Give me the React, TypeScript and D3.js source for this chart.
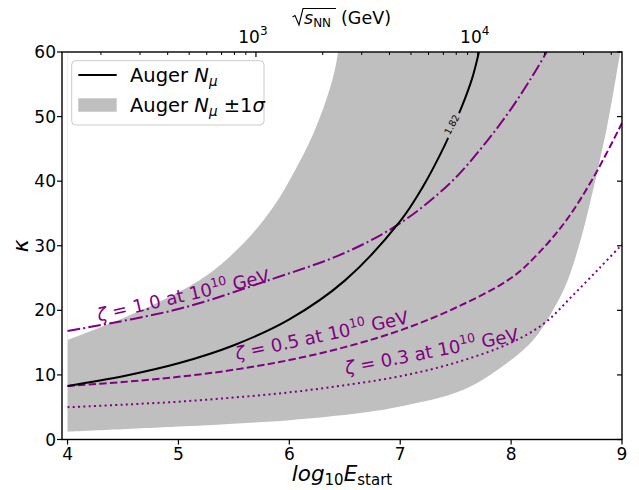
import React from 'react';
import * as d3 from 'd3';

// ---- data -------------------------------------------------------------
const eTicks = [4, 5, 6, 7, 8, 9];
const kappaTicks = [0, 10, 20, 30, 40, 50, 60];
const sqrtSMajor = [1e3, 1e4];
const sqrtSMajorExp = ['3', '4'];

// Auger N_mu contour (kappa vs log10 E_start), labelled 1.82
const augerE = [4.0, 4.5, 5.0, 5.5, 6.0, 6.5, 7.0, 7.2, 7.4, 7.55, 7.65, 7.71];
const augerK = [8.3, 9.8, 11.8, 14.6, 18.6, 24.6, 33.8, 39.0, 45.5, 51.3, 56.0, 60.0];
const augerLevel = '1.82';

// +/- 1 sigma band edges
const bandUpE = [4.0, 4.53, 4.92, 5.28, 5.615, 5.855, 6.036, 6.22, 6.35, 6.41, 6.44];
const bandUpK = [15.4, 19.0, 22.1, 25.7, 30.9, 36.0, 41.2, 47.5, 53.5, 57.2, 60.0];
const bandLoE = [4.0, 5.0, 6.0, 6.64, 7.0, 7.57, 7.96, 8.2, 8.38, 8.5, 8.62, 8.71, 8.86, 8.95, 8.985];
const bandLoK = [1.2, 2.0, 3.0, 4.1, 5.1, 7.7, 11.8, 15.4, 20.1, 24.2, 30.5, 36.5, 48.0, 56.5, 60.0];

// zeta curves
const zeta10E = [4.0, 5.0, 5.82, 6.5, 7.0, 7.45, 7.75, 8.0, 8.2, 8.32];
const zeta10K = [16.8, 20.2, 24.7, 28.9, 33.5, 39.7, 45.5, 51.2, 56.5, 60.0];
const zeta05E = [4.0, 4.5, 5.0, 5.5, 6.0, 6.5, 7.0, 7.5, 8.0, 8.25, 8.5, 8.75, 9.0];
const zeta05K = [8.3, 8.9, 9.7, 10.8, 12.3, 14.3, 16.9, 20.4, 25.0, 28.9, 34.0, 40.8, 49.0];
const zeta03E = [4.0, 4.5, 5.0, 5.5, 6.0, 6.5, 7.0, 7.5, 8.0, 8.3, 8.55, 8.8, 9.0];
const zeta03K = [5.0, 5.4, 5.85, 6.5, 7.3, 8.4, 9.8, 11.9, 15.0, 18.0, 22.2, 26.6, 30.2];

const zetaValues = ['1.0', '0.5', '0.3'];

// ---- layout -----------------------------------------------------------
const W = 639;
const H = 490;
const L = 62, R = 622, T = 52, B = 439.5;
const PURPLE = '#800080';
const GREY = '#bfbfbf';
const FONT = '"DejaVu Sans", sans-serif';

const zip = (a: number[], b: number[]) => a.map((v, i) => [v, b[i]] as [number, number]);

export default function App() {
  const x = d3.scaleLinear().domain([3.95, 9]).range([L, R]);
  const y = d3.scaleLinear().domain([0, 60]).range([B, T]);
  // sqrt(s_NN) = sqrt(2 E) with E in GeV
  const sx = d3
    .scaleLog()
    .domain([Math.sqrt(2 * Math.pow(10, 3.95)), Math.sqrt(2 * Math.pow(10, 9))])
    .range([L, R]);
  const sMinor = sx.ticks().filter((t) => !sqrtSMajor.includes(t));

  const curve = d3.curveCatmullRom.alpha(0.5);

  const line = d3
    .line<[number, number]>()
    .x((d) => x(d[0]))
    .y((d) => y(d[1]))
    .curve(curve);

  const aboveCurve = d3
    .area<[number, number]>()
    .x((d) => x(d[0]))
    .y0((d) => y(d[1]))
    .y1(T - 20)
    .curve(curve);

  const augerPath = line(zip(augerE, augerK)) || '';
  const z10 = line(zip(zeta10E, zeta10K)) || '';
  const z05 = line(zip(zeta05E, zeta05K)) || '';
  const z03 = line(zip(zeta03E, zeta03K)) || '';
  const bandAbove = aboveCurve(zip(bandLoE, bandLoK)) || '';
  const bandCut = aboveCurve(zip(bandUpE, bandUpK)) || '';

  // contour label position on the Auger curve
  const lblX = 451.7, lblY = 124.5, lblRot = -62;

  const zetaLabels = [
    { e: 5.044, k: 22.25, rot: -13 },
    { e: 6.292, k: 16.06, rot: -12 },
    { e: 7.284, k: 13.6, rot: -11 },
  ];

  return (
    <svg
      width={W}
      height={H}
      viewBox={`0 0 ${W} ${H}`}
      style={{ position: 'absolute', left: 0, top: 0, background: '#fff' }}
      fontFamily={FONT}
    >
      <defs>
        <clipPath id="plot">
          <rect x={L} y={T} width={R - L} height={B - T} />
        </clipPath>
        <mask id="band-mask" maskUnits="userSpaceOnUse" x={0} y={0} width={W} height={H}>
          <rect x={0} y={0} width={W} height={H} fill="#fff" />
          <path d={bandCut} fill="#000" />
        </mask>
        <mask id="gap-mask" maskUnits="userSpaceOnUse" x={0} y={0} width={W} height={H}>
          <rect x={0} y={0} width={W} height={H} fill="#fff" />
          <rect
            x={-13.5}
            y={-6}
            width={27}
            height={12}
            fill="#000"
            transform={`translate(${lblX},${lblY}) rotate(${lblRot})`}
          />
        </mask>
      </defs>

      <g clipPath="url(#plot)">
        {/* +/- 1 sigma band */}
        <path d={bandAbove} fill={GREY} mask="url(#band-mask)" />

        {/* zeta curves */}
        <path d={z10} fill="none" stroke={PURPLE} strokeWidth={2} strokeDasharray="12.8 3.2 2 3.2" />
        <path d={z05} fill="none" stroke={PURPLE} strokeWidth={2} strokeDasharray="7.4 3.2" />
        <path d={z03} fill="none" stroke={PURPLE} strokeWidth={2} strokeDasharray="2 3.3" />

        {/* Auger N_mu contour */}
        <path d={augerPath} fill="none" stroke="#000" strokeWidth={2} mask="url(#gap-mask)" />
      </g>

      <text
        transform={`translate(${lblX},${lblY}) rotate(${lblRot})`}
        textAnchor="middle"
        dominantBaseline="central"
        fontSize={9.5}
        fill="#000"
      >
        {augerLevel}
      </text>

      {/* zeta labels */}
      {zetaLabels.map((z, i) => (
        <text
          key={i}
          transform={`translate(${x(z.e)},${y(z.k)}) rotate(${z.rot})`}
          textAnchor="middle"
          dy={6}
          fontSize={18}
          fill={PURPLE}
        >
          <tspan fontStyle="italic">ζ</tspan>
          <tspan> = {zetaValues[i]} at 10</tspan>
          <tspan fontSize={12.5} dy={-7.5}>10</tspan>
          <tspan dy={7.5}> GeV</tspan>
        </text>
      ))}

      {/* legend */}
      <g>
        <rect x={71.7} y={60.7} width={192.3} height={64.3} rx={4} fill="#fff" fillOpacity={0.8} stroke="#cccccc" strokeWidth={1} />
        <line x1={78.3} x2={116.7} y1={75} y2={75} stroke="#000" strokeWidth={2} />
        <rect x={78.3} y={98.3} width={38.4} height={13.4} fill={GREY} />
        <text x={130} y={82} fontSize={19.5} fill="#000">
          Auger <tspan fontStyle="italic">N</tspan>
          <tspan fontStyle="italic" fontSize={13.5} dy={4}>μ</tspan>
        </text>
        <text x={130} y={112} fontSize={19.5} fill="#000">
          Auger <tspan fontStyle="italic">N</tspan>
          <tspan fontStyle="italic" fontSize={13.5} dy={4}>μ</tspan>
          <tspan dy={-4}> ±1</tspan>
          <tspan fontStyle="italic">σ</tspan>
        </text>
      </g>

      {/* spines */}
      <rect x={L} y={T} width={R - L} height={B - T} fill="none" stroke="#000" strokeWidth={1.4} />

      {/* bottom axis */}
      {eTicks.map((t) => (
        <g key={`e${t}`}>
          <line x1={x(t)} x2={x(t)} y1={B} y2={B + 5} stroke="#000" strokeWidth={1.2} />
          <text x={x(t)} y={459.5} textAnchor="middle" fontSize={17}>{t}</text>
        </g>
      ))}

      {/* left + right axis */}
      {kappaTicks.map((t) => (
        <g key={`k${t}`}>
          <line x1={L - 5} x2={L} y1={y(t)} y2={y(t)} stroke="#000" strokeWidth={1.2} />
          <line x1={R - 5} x2={R} y1={y(t)} y2={y(t)} stroke="#000" strokeWidth={1.2} />
          <text x={L - 6} y={y(t)} dy={6} textAnchor="end" fontSize={17}>{t}</text>
        </g>
      ))}

      {/* top axis: sqrt(s_NN) */}
      {sMinor.map((t) => (
        <line key={`m${t}`} x1={sx(t)} x2={sx(t)} y1={T} y2={T + 3} stroke="#000" strokeWidth={1} />
      ))}
      {sqrtSMajor.map((t, i) => (
        <g key={`s${t}`}>
          <line x1={sx(t)} x2={sx(t)} y1={T} y2={T + 5} stroke="#000" strokeWidth={1.2} />
          <text x={sx(t) - 3} y={43} textAnchor="middle" fontSize={17}>
            10<tspan fontSize={12} dy={-8}>{sqrtSMajorExp[i]}</tspan>
          </text>
        </g>
      ))}

      {/* axis titles */}
      <text x={342} y={481} textAnchor="middle" fontSize={21.5}>
        <tspan fontStyle="italic">log</tspan>
        <tspan fontSize={15} dy={3.5}>10</tspan>
        <tspan fontStyle="italic" dy={-3.5}>E</tspan>
        <tspan fontSize={15} dy={3.5}>start</tspan>
      </text>
      <text transform="translate(20,245.7) rotate(-90)" textAnchor="middle" dominantBaseline="central" fontSize={22} fontStyle="italic">
        κ
      </text>

      {/* sqrt(s_NN) (GeV) */}
      <g>
        <path d="M292.5,17 L295,15.5 L299,25 L303,8.5 L336,8.5" fill="none" stroke="#000" strokeWidth={1.1} />
        <text x={304} y={24} fontSize={17.5}>
          <tspan fontStyle="italic">s</tspan>
          <tspan fontSize={12} dy={3}>NN</tspan>
          <tspan dy={-3} x={341}>(GeV)</tspan>
        </text>
      </g>
    </svg>
  );
}
